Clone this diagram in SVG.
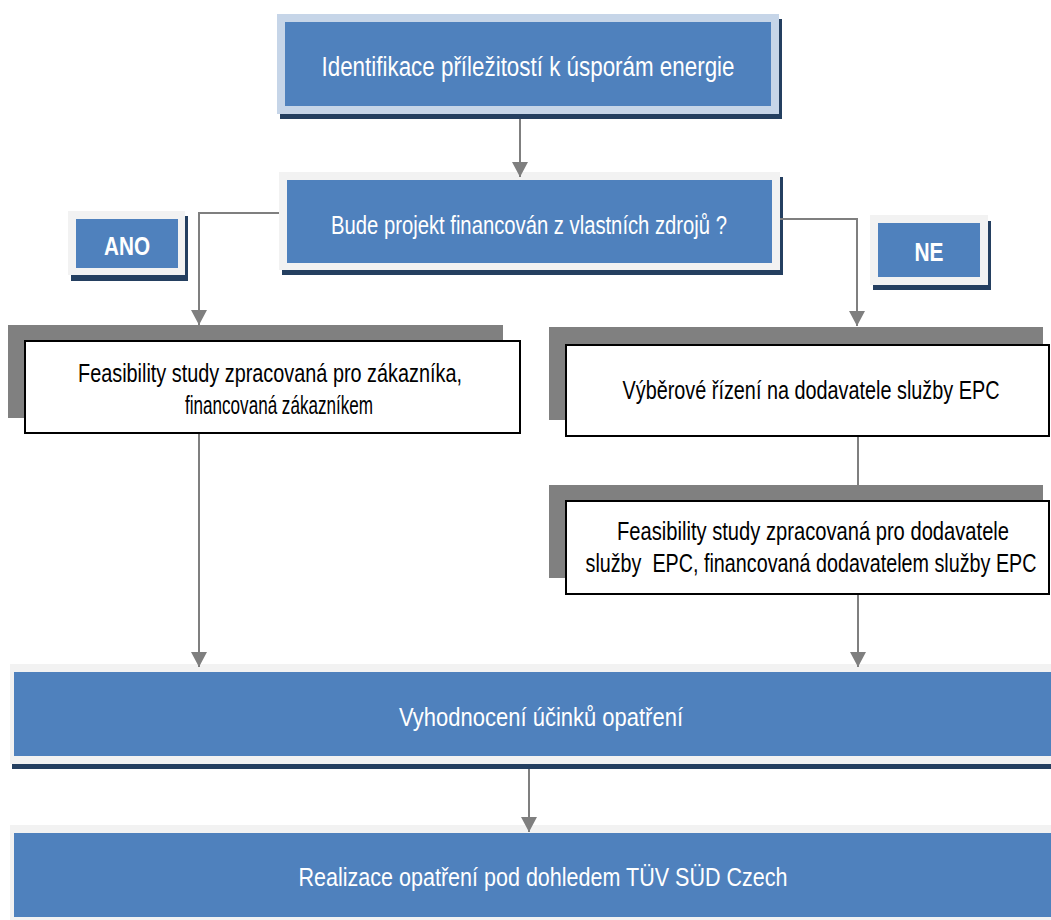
<svg xmlns="http://www.w3.org/2000/svg" width="1051" height="920" viewBox="0 0 1051 920">
<defs>
<marker id="arr" markerWidth="15" markerHeight="16" refX="15" refY="8" orient="auto" markerUnits="userSpaceOnUse" viewBox="0 0 15 16">
<path d="M0,0 L15,8 L0,16 Z" fill="#7f7f7f"/>
</marker>
<style>
.blue{fill:#4f81bd}
.lb{fill:#c6d5e8}
.lg{fill:#f2f2f2}
.sh{fill:#243f60}
.hd{fill:#808080}
.wb{fill:#ffffff;stroke:#000000;stroke-width:2}
.wt{font-family:"Liberation Sans",Arial,sans-serif;fill:#ffffff;text-anchor:middle}
.bt{font-family:"Liberation Sans",Arial,sans-serif;fill:#000000;text-anchor:middle;font-size:25px}
.con{fill:none;stroke:#7f7f7f;stroke-width:2}
</style>
</defs>
<rect width="1051" height="920" fill="#ffffff"/>
<g id="n-identifikace">
<rect class="sh" x="280" y="19" width="502" height="100"/>
<rect class="lb" x="277" y="14" width="502" height="100"/>
<rect class="blue" x="285" y="22" width="486" height="84"/>
<text class="wt" transform="translate(528,76) scale(0.78,1)" x="0" y="0" font-size="28" textLength="529.5" lengthAdjust="spacingAndGlyphs">Identifikace příležitostí k úsporám energie</text>
</g>
<g id="n-bude">
<rect class="sh" x="282" y="177" width="501" height="98"/>
<rect class="lg" x="279" y="172" width="501" height="98"/>
<rect class="blue" x="287" y="180" width="485" height="83"/>
<text class="wt" transform="translate(529,234) scale(0.78,1)" x="0" y="0" font-size="26" textLength="507.7" lengthAdjust="spacingAndGlyphs">Bude projekt financován z vlastních zdrojů ?</text>
</g>
<g id="n-ano">
<rect class="sh" x="71" y="216" width="117" height="65"/>
<rect class="lg" x="68" y="211" width="117" height="64"/>
<rect class="blue" x="76" y="219" width="102" height="49"/>
<text class="wt" transform="translate(127,255) scale(0.78,1)" x="0" y="0" font-size="26" font-weight="bold" textLength="59" lengthAdjust="spacingAndGlyphs">ANO</text>
</g>
<g id="n-ne">
<rect class="sh" x="873" y="221" width="118" height="69"/>
<rect class="lg" x="870" y="215" width="118" height="70"/>
<rect class="blue" x="878" y="223" width="102" height="54"/>
<text class="wt" transform="translate(929,261) scale(0.78,1)" x="0" y="0" font-size="26" font-weight="bold" textLength="37.2" lengthAdjust="spacingAndGlyphs">NE</text>
</g>
<g id="n-feas-left">
<rect class="hd" x="8" y="325" width="495" height="93"/>
<rect class="wb" x="25" y="341" width="495" height="92"/>
<text class="bt" transform="translate(270,382) scale(0.78,1)" x="0" y="0" textLength="492.3" lengthAdjust="spacingAndGlyphs">Feasibility study zpracovaná pro zákazníka,</text>
<text class="bt" transform="translate(279,414) scale(0.78,1)" x="0" y="0" textLength="241" lengthAdjust="spacingAndGlyphs">financovaná zákazníkem</text>
</g>
<g id="n-vyber">
<rect class="hd" x="549" y="327" width="494" height="93"/>
<rect class="wb" x="566" y="345" width="483" height="91"/>
<text class="bt" transform="translate(811,399) scale(0.78,1)" x="0" y="0" textLength="483.3" lengthAdjust="spacingAndGlyphs">Výběrové řízení na dodavatele služby EPC</text>
</g>
<g id="n-feas-right">
<rect class="hd" x="549" y="485" width="494" height="93"/>
<rect class="wb" x="566" y="501" width="483" height="93"/>
<text class="bt" transform="translate(813,540) scale(0.78,1)" x="0" y="0" textLength="502.6" lengthAdjust="spacingAndGlyphs">Feasibility study zpracovaná pro dodavatele</text>
<text class="bt" transform="translate(811,572) scale(0.78,1)" x="0" y="0" textLength="578.2" lengthAdjust="spacingAndGlyphs" xml:space="preserve">služby  EPC, financovaná dodavatelem služby EPC</text>
</g>
<g id="n-vyhodnoceni">
<rect class="sh" x="12" y="669" width="1039" height="100"/>
<rect class="lg" x="10" y="664" width="1041" height="100"/>
<rect class="blue" x="14" y="672" width="1037" height="84"/>
<text class="wt" transform="translate(541,726) scale(0.78,1)" x="0" y="0" font-size="26" textLength="364.1" lengthAdjust="spacingAndGlyphs">Vyhodnocení účinků opatření</text>
</g>
<g id="n-realizace">
<rect class="lg" x="10" y="825" width="1041" height="95"/>
<rect class="blue" x="14" y="833" width="1037" height="84"/>
<text class="wt" transform="translate(543,886) scale(0.78,1)" x="0" y="0" font-size="26" textLength="626.9" lengthAdjust="spacingAndGlyphs">Realizace opatření pod dohledem TÜV SÜD Czech</text>
</g>
<g id="connectors">
<path class="con" d="M520,119 V177" marker-end="url(#arr)"/>
<path class="con" d="M279,213 H199 V325" marker-end="url(#arr)"/>
<path class="con" d="M780,219 H857 V326" marker-end="url(#arr)"/>
<path class="con" d="M858,437 V485"/>
<path class="con" d="M199,434 V667" marker-end="url(#arr)"/>
<path class="con" d="M858,595 V667" marker-end="url(#arr)"/>
<path class="con" d="M529,769 V832" marker-end="url(#arr)"/>
</g>
</svg>
